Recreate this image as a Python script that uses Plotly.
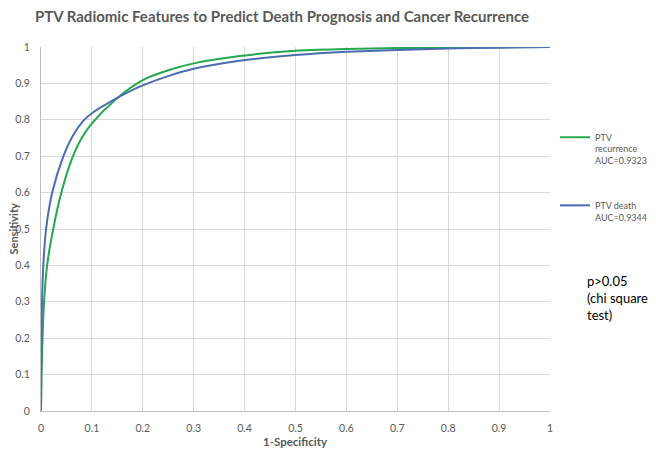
import plotly.graph_objects as go

# ROC points
recurrence_fpr = [0, 0.001, 0.003, 0.006, 0.012, 0.024, 0.04, 0.06, 0.08, 0.1, 0.145, 0.2, 0.25, 0.3, 0.39, 0.5, 0.6, 0.7, 0.8, 0.9, 1]
recurrence_tpr = [0, 0.1, 0.2, 0.3, 0.4, 0.5, 0.6, 0.69, 0.75, 0.79, 0.854, 0.909, 0.936, 0.955, 0.975, 0.99, 0.9945, 0.997, 0.998, 0.999, 1]

death_fpr = [0, 0.001, 0.002, 0.0045, 0.01, 0.022, 0.044, 0.062, 0.083, 0.1, 0.142, 0.194, 0.25, 0.3, 0.39, 0.5, 0.6, 0.7, 0.8, 0.9, 1]
death_tpr = [0, 0.2, 0.3, 0.4, 0.5, 0.6, 0.7, 0.755, 0.797, 0.818, 0.854, 0.891, 0.92, 0.94, 0.962, 0.978, 0.987, 0.992, 0.996, 0.998, 1]

GREEN = "#25A84E"
BLUE = "#4A6DB3"
GREY = "#595959"
FONT = "Lato"

fig = go.Figure()
fig.add_trace(go.Scatter(
    x=recurrence_fpr, y=recurrence_tpr, mode="lines",
    line={"color": GREEN, "width": 2, "shape": "spline", "smoothing": 0.8},
    name="PTV<br>recurrence<br>AUC=0.9323", legendgroup="a",
))
fig.add_trace(go.Scatter(
    x=death_fpr, y=death_tpr, mode="lines",
    line={"color": BLUE, "width": 2, "shape": "spline", "smoothing": 0.8},
    name="PTV death<br>AUC=0.9344", legendgroup="b",
))

# page body has an 8px margin, so the figure is shrunk to the visible area
fig.update_layout(
    width=640,
    height=440,
    paper_bgcolor="white",
    plot_bgcolor="white",
    font={"family": FONT, "color": GREY, "size": 10},
    margin={"l": 33, "r": 98, "t": 39, "b": 37, "autoexpand": False},
    title={
        "text": "<b>PTV Radiomic Features to Predict Death Prognosis and Cancer Recurrence</b>",
        "font": {"family": FONT, "size": 15, "color": GREY},
        "x": 274 / 640, "xanchor": "center", "y": 1 - 8.5 / 440, "yanchor": "middle",
    },
    legend={
        "x": 1.0098, "y": 0.786, "xanchor": "left", "yanchor": "top",
        "valign": "top", "itemwidth": 30, "tracegroupgap": 30,
        "traceorder": "grouped",
        "font": {"family": FONT, "size": 9, "color": GREY},
        "bgcolor": "rgba(0,0,0,0)",
    },
    annotations=[
        {
            "text": "p>0.05<br>(chi square<br>test)",
            "xref": "paper", "yref": "paper", "x": 1.069, "y": 0.385,
            "xanchor": "left", "yanchor": "top", "align": "left", "showarrow": False,
            "font": {"family": FONT, "size": 13, "color": "#000000"},
        },
        {
            "text": "<b>Sensitivity</b>", "textangle": -90,
            "xref": "paper", "yref": "paper", "x": -28.5 / 509, "y": 0.5,
            "xanchor": "center", "yanchor": "middle", "showarrow": False,
            "font": {"family": FONT, "size": 11, "color": GREY},
        },
        {
            "text": "<b>1-Specificity</b>",
            "xref": "paper", "yref": "paper", "x": 254 / 509, "y": -30 / 364,
            "xanchor": "center", "yanchor": "middle", "showarrow": False,
            "font": {"family": FONT, "size": 11.5, "color": GREY},
        },
    ],
)
fig.update_xaxes(
    range=[0, 1], dtick=0.1, showgrid=True, gridcolor="#D9D9D9", gridwidth=1,
    showline=True, linecolor="#BFBFBF", linewidth=1, zeroline=False, automargin=False,
    ticks="", ticklabelstandoff=7, tickfont={"size": 10.5, "color": GREY},
)
fig.update_yaxes(
    range=[0, 1], dtick=0.1, showgrid=True, gridcolor="#D9D9D9", gridwidth=1,
    showline=True, linecolor="#BFBFBF", linewidth=1, zeroline=False, automargin=False,
    ticks="", ticklabelstandoff=8, tickfont={"size": 10.5, "color": GREY},
)

fig.write_html("out.html")
